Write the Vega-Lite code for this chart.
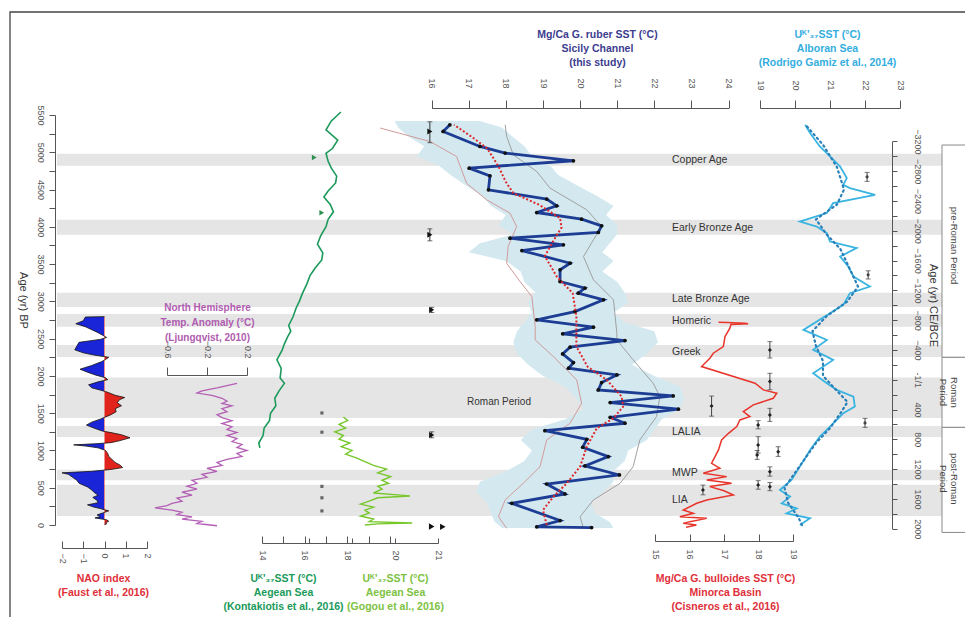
{
"$schema": "https://vega.github.io/schema/vega-lite/v6.json",
"width": 965, "height": 617,
"autosize": {"type": "none"},
"padding": 0,
"background": "white",
"config": {
  "view": {"stroke": null},
  "axis": {"grid": false, "labelFont": "Liberation Sans", "titleFont": "Liberation Sans", "labelFontSize": 9, "labelColor": "#555555", "domainColor": "#555555", "tickColor": "#555555", "titleFontSize": 10.5, "titleFontWeight": "bold", "titleLineHeight": 14, "titleAlign": "center", "titleBaseline": "top", "labelAngle": 90, "labelOverlap": false, "labelFlush": false},
  "text": {"font": "Liberation Sans"}
},
"datasets": {
  "bands": [{"s":4820,"e":4980,"label":"Copper Age","la":4900},{"s":3893,"e":4094,"label":"Early Bronze Age","la":3990},{"s":2926,"e":3114,"label":"Late Bronze Age","la":3030},{"s":2658,"e":2832,"label":"Homeric","la":2735},{"s":2255,"e":2416,"label":"Greek","la":2325},{"s":1436,"e":1980,"label":"Roman Period","la":1650},{"s":1181,"e":1329,"label":"LALIA","la":1250},{"s":600,"e":740,"label":"MWP","la":700},{"s":120,"e":540,"label":"LIA","la":336}],
  "periods": [{"s":-3150,"e":-300,"label":"pre-Roman Period","la":-1800},{"s":-300,"e":640,"label":"Roman\nPeriod","la":170},{"s":640,"e":2050,"label":"post-Roman\nPeriod","la":1330}],
  "sicEnv": [{"age":5420,"lo":15.0,"hi":17.3},{"age":5330,"lo":15.1,"hi":17.9},{"age":5200,"lo":15.4,"hi":18.2},{"age":5080,"lo":15.8,"hi":18.5},{"age":4950,"lo":15.6,"hi":18.7},{"age":4820,"lo":16.2,"hi":19.2},{"age":4700,"lo":16.5,"hi":19.4},{"age":4560,"lo":16.9,"hi":19.9},{"age":4400,"lo":17.4,"hi":20.5},{"age":4280,"lo":17.6,"hi":20.9},{"age":4160,"lo":18.0,"hi":20.7},{"age":4020,"lo":17.8,"hi":21.0},{"age":3900,"lo":18.2,"hi":21.0},{"age":3780,"lo":17.3,"hi":20.8},{"age":3660,"lo":17.0,"hi":20.6},{"age":3540,"lo":18.0,"hi":20.9},{"age":3400,"lo":18.4,"hi":20.6},{"age":3260,"lo":18.5,"hi":21.0},{"age":3120,"lo":18.8,"hi":21.2},{"age":2980,"lo":18.6,"hi":21.3},{"age":2850,"lo":18.7,"hi":20.9},{"age":2720,"lo":18.5,"hi":21.2},{"age":2600,"lo":18.3,"hi":22.0},{"age":2450,"lo":18.2,"hi":22.1},{"age":2300,"lo":18.3,"hi":21.8},{"age":2150,"lo":18.6,"hi":21.4},{"age":2000,"lo":19.0,"hi":22.0},{"age":1850,"lo":19.6,"hi":22.7},{"age":1700,"lo":19.9,"hi":22.8},{"age":1560,"lo":20.1,"hi":22.7},{"age":1420,"lo":19.6,"hi":22.2},{"age":1280,"lo":18.7,"hi":22.0},{"age":1140,"lo":18.4,"hi":21.8},{"age":1000,"lo":18.7,"hi":21.3},{"age":860,"lo":18.5,"hi":21.2},{"age":720,"lo":18.0,"hi":20.9},{"age":580,"lo":17.3,"hi":20.9},{"age":440,"lo":17.2,"hi":20.6},{"age":300,"lo":17.5,"hi":20.3},{"age":160,"lo":17.6,"hi":20.4},{"age":40,"lo":17.7,"hi":20.8},{"age":-40,"lo":17.9,"hi":20.9}],
  "sicThin": [{"side":"L","age":5325,"t":14.61},{"side":"L","age":5145,"t":15.95},{"side":"L","age":4944,"t":16.67},{"side":"L","age":4586,"t":16.94},{"side":"L","age":4362,"t":17.48},{"side":"L","age":4184,"t":18.11},{"side":"L","age":4004,"t":18.29},{"side":"L","age":3736,"t":18.06},{"side":"L","age":3512,"t":18.02},{"side":"L","age":3266,"t":18.38},{"side":"L","age":3064,"t":18.70},{"side":"L","age":2662,"t":18.79},{"side":"L","age":2483,"t":18.79},{"side":"L","age":2259,"t":19.28},{"side":"L","age":1946,"t":19.91},{"side":"L","age":1633,"t":20.04},{"side":"L","age":1365,"t":19.73},{"side":"L","age":1141,"t":19.10},{"side":"L","age":783,"t":18.92},{"side":"L","age":560,"t":18.47},{"side":"L","age":336,"t":17.98},{"side":"L","age":112,"t":17.80},{"side":"L","age":-44,"t":18.02},
    {"side":"R","age":5369,"t":17.98},{"side":"R","age":5212,"t":18.02},{"side":"R","age":4966,"t":18.20},{"side":"R","age":4743,"t":18.83},{"side":"R","age":4519,"t":19.19},{"side":"R","age":4228,"t":20.18},{"side":"R","age":4004,"t":20.58},{"side":"R","age":3826,"t":20.36},{"side":"R","age":3601,"t":20.09},{"side":"R","age":3289,"t":20.36},{"side":"R","age":3020,"t":20.90},{"side":"R","age":2573,"t":20.99},{"side":"R","age":2483,"t":20.99},{"side":"R","age":2215,"t":21.43},{"side":"R","age":1902,"t":21.97},{"side":"R","age":1722,"t":22.15},{"side":"R","age":1454,"t":22.06},{"side":"R","age":1141,"t":21.61},{"side":"R","age":783,"t":21.43},{"side":"R","age":560,"t":21.08},{"side":"R","age":336,"t":20.36},{"side":"R","age":112,"t":20.0},{"side":"R","age":-44,"t":20.09}],
  "sic": [{"age":5369,"t":16.49},{"age":5279,"t":16.31},{"age":5078,"t":17.30},{"age":4989,"t":17.98},{"age":4886,"t":19.82},{"age":4787,"t":17.01},{"age":4684,"t":17.57},{"age":4497,"t":17.53},{"age":4372,"t":19.10},{"age":4282,"t":19.37},{"age":4192,"t":18.83},{"age":4103,"t":20.04},{"age":4013,"t":20.58},{"age":3924,"t":20.49},{"age":3848,"t":18.11},{"age":3758,"t":19.55},{"age":3682,"t":18.43},{"age":3512,"t":19.73},{"age":3423,"t":19.46},{"age":3266,"t":19.46},{"age":3177,"t":20.13},{"age":3110,"t":19.95},{"age":3020,"t":20.63},{"age":2863,"t":19.86},{"age":2752,"t":18.83},{"age":2653,"t":20.36},{"age":2564,"t":19.53},{"age":2474,"t":21.21},{"age":2385,"t":19.73},{"age":2295,"t":19.53},{"age":2179,"t":19.82},{"age":2103,"t":19.69},{"age":2013,"t":20.99},{"age":1910,"t":20.58},{"age":1812,"t":20.49},{"age":1732,"t":22.51},{"age":1642,"t":20.81},{"age":1553,"t":22.65},{"age":1445,"t":20.81},{"age":1365,"t":21.21},{"age":1266,"t":19.05},{"age":1150,"t":20.18},{"age":1043,"t":20.07},{"age":917,"t":20.76},{"age":792,"t":20.13},{"age":671,"t":21.06},{"age":550,"t":19.10},{"age":416,"t":19.59},{"age":291,"t":18.16},{"age":60,"t":19.46},{"age":-25,"t":18.83},{"age":-35,"t":20.31}],
  "sicSmooth": [{"age":5369,"t":16.6},{"age":5200,"t":17.1},{"age":5050,"t":17.5},{"age":4810,"t":17.8},{"age":4600,"t":18.0},{"age":4452,"t":18.2},{"age":4295,"t":18.9},{"age":4116,"t":19.46},{"age":3990,"t":19.5},{"age":3830,"t":19.3},{"age":3607,"t":19.05},{"age":3333,"t":19.37},{"age":3110,"t":19.8},{"age":2796,"t":19.9},{"age":2483,"t":19.9},{"age":2393,"t":19.9},{"age":2125,"t":20.2},{"age":1946,"t":20.72},{"age":1723,"t":21.12},{"age":1589,"t":21.16},{"age":1432,"t":20.9},{"age":1298,"t":20.45},{"age":1052,"t":20.18},{"age":783,"t":20.0},{"age":559,"t":19.64},{"age":380,"t":19.28},{"age":201,"t":19.0},{"age":0,"t":19.1}],
  "sicTie": [{"age":5279,"t":15.95,"lo":5128,"hi":5409},{"age":3893,"t":15.95,"lo":3812,"hi":3973},{"age":2886,"t":16.0,"lo":2850,"hi":2920},{"age":1208,"t":16.0,"lo":1170,"hi":1250}],
  "sicTie2": [{"age":-20,"t":16.0},{"age":-25,"t":16.3}],
  "nao": [{"age":2795,"v":0},{"age":2790,"v":-0.9},{"age":2740,"v":-1.0},{"age":2700,"v":-1.35},{"age":2660,"v":-0.9},{"age":2620,"v":-0.6},{"age":2580,"v":-0.3},{"age":2540,"v":-0.05},{"age":2515,"v":0.1},{"age":2490,"v":-0.2},{"age":2450,"v":-1.2},{"age":2400,"v":-1.3},{"age":2350,"v":-1.4},{"age":2310,"v":-1.0},{"age":2280,"v":-0.5},{"age":2250,"v":0.2},{"age":2220,"v":0.05},{"age":2190,"v":-0.15},{"age":2140,"v":-0.6},{"age":2090,"v":-1.15},{"age":2050,"v":-0.8},{"age":2010,"v":-0.4},{"age":1975,"v":0.05},{"age":1950,"v":0.15},{"age":1920,"v":-0.3},{"age":1880,"v":-0.75},{"age":1840,"v":-0.6},{"age":1810,"v":-0.2},{"age":1780,"v":0.15},{"age":1740,"v":0.5},{"age":1710,"v":0.95},{"age":1680,"v":0.7},{"age":1640,"v":0.6},{"age":1600,"v":0.8},{"age":1560,"v":0.5},{"age":1520,"v":0.55},{"age":1480,"v":0.3},{"age":1450,"v":0.05},{"age":1420,"v":-0.2},{"age":1380,"v":-0.6},{"age":1340,"v":-0.85},{"age":1300,"v":-0.5},{"age":1260,"v":-0.1},{"age":1240,"v":0.3},{"age":1210,"v":0.8},{"age":1170,"v":1.2},{"age":1130,"v":0.7},{"age":1105,"v":0.3},{"age":1090,"v":-0.4},{"age":1075,"v":-1.45},{"age":1060,"v":-0.9},{"age":1035,"v":-0.3},{"age":1000,"v":0.05},{"age":960,"v":0.15},{"age":920,"v":0.2},{"age":880,"v":0.35},{"age":840,"v":0.5},{"age":800,"v":0.75},{"age":770,"v":0.85},{"age":745,"v":0.3},{"age":720,"v":-0.6},{"age":700,"v":-2.0},{"age":680,"v":-1.7},{"age":640,"v":-1.5},{"age":600,"v":-1.3},{"age":560,"v":-1.2},{"age":510,"v":-0.8},{"age":470,"v":-0.6},{"age":440,"v":-0.5},{"age":400,"v":-0.3},{"age":370,"v":-0.55},{"age":330,"v":-0.35},{"age":300,"v":-0.3},{"age":270,"v":-0.8},{"age":240,"v":-0.5},{"age":220,"v":-0.2},{"age":190,"v":0.2},{"age":160,"v":-0.1},{"age":135,"v":-0.35},{"age":110,"v":-0.2},{"age":95,"v":-0.45},{"age":70,"v":0.1},{"age":50,"v":0.2},{"age":30,"v":0.05},{"age":15,"v":0.1},{"age":5,"v":0}],
  "nh": [{"age":1900,"v":0.1},{"age":1870,"v":0.0},{"age":1840,"v":-0.1},{"age":1800,"v":-0.25},{"age":1770,"v":-0.3},{"age":1740,"v":-0.15},{"age":1700,"v":-0.05},{"age":1660,"v":0.0},{"age":1630,"v":-0.05},{"age":1600,"v":0.05},{"age":1560,"v":-0.05},{"age":1520,"v":0.0},{"age":1480,"v":-0.1},{"age":1440,"v":-0.05},{"age":1400,"v":0.05},{"age":1360,"v":-0.05},{"age":1320,"v":0.05},{"age":1280,"v":0.0},{"age":1240,"v":0.1},{"age":1200,"v":0.0},{"age":1160,"v":0.1},{"age":1120,"v":0.05},{"age":1080,"v":0.15},{"age":1040,"v":0.1},{"age":1000,"v":0.2},{"age":960,"v":0.1},{"age":920,"v":0.15},{"age":880,"v":0.0},{"age":840,"v":-0.1},{"age":800,"v":-0.05},{"age":760,"v":-0.2},{"age":720,"v":-0.1},{"age":680,"v":-0.25},{"age":640,"v":-0.2},{"age":600,"v":-0.35},{"age":560,"v":-0.3},{"age":520,"v":-0.4},{"age":480,"v":-0.3},{"age":440,"v":-0.45},{"age":400,"v":-0.35},{"age":360,"v":-0.5},{"age":320,"v":-0.45},{"age":290,"v":-0.55},{"age":260,"v":-0.6},{"age":230,"v":-0.72},{"age":200,"v":-0.55},{"age":170,"v":-0.45},{"age":140,"v":-0.5},{"age":110,"v":-0.35},{"age":80,"v":-0.45},{"age":50,"v":-0.25},{"age":20,"v":-0.3},{"age":-10,"v":-0.1}],
  "kon": [{"age":5540,"t":17.7},{"age":5420,"t":17.25},{"age":5300,"t":17.0},{"age":5163,"t":17.55},{"age":5050,"t":17.3},{"age":4987,"t":17.0},{"age":4880,"t":17.1},{"age":4787,"t":17.25},{"age":4680,"t":17.5},{"age":4588,"t":17.45},{"age":4480,"t":17.1},{"age":4400,"t":16.9},{"age":4300,"t":17.2},{"age":4201,"t":17.35},{"age":4100,"t":17.1},{"age":4002,"t":17.0},{"age":3880,"t":16.75},{"age":3767,"t":16.6},{"age":3650,"t":16.85},{"age":3556,"t":16.8},{"age":3450,"t":16.5},{"age":3345,"t":16.25},{"age":3230,"t":16.1},{"age":3110,"t":15.9},{"age":3000,"t":15.75},{"age":2911,"t":15.6},{"age":2790,"t":15.45},{"age":2676,"t":15.25},{"age":2600,"t":15.35},{"age":2523,"t":15.2},{"age":2430,"t":15.05},{"age":2350,"t":14.95},{"age":2215,"t":14.7},{"age":2100,"t":14.9},{"age":1973,"t":14.85},{"age":1900,"t":15.05},{"age":1800,"t":14.8},{"age":1700,"t":14.6},{"age":1600,"t":14.65},{"age":1500,"t":14.4},{"age":1400,"t":14.35},{"age":1300,"t":14.1},{"age":1200,"t":14.05},{"age":1100,"t":13.85},{"age":1034,"t":13.9}],
  "konMark": [{"age":4930,"t":16.45},{"age":4190,"t":16.8}],
  "gog": [{"age":1450,"t":18.8},{"age":1400,"t":18.9},{"age":1350,"t":18.7},{"age":1300,"t":18.85},{"age":1250,"t":18.6},{"age":1200,"t":18.8},{"age":1150,"t":18.7},{"age":1100,"t":18.95},{"age":1050,"t":18.75},{"age":1000,"t":19.0},{"age":950,"t":18.85},{"age":900,"t":19.1},{"age":850,"t":19.3},{"age":800,"t":19.5},{"age":750,"t":19.8},{"age":700,"t":19.6},{"age":650,"t":19.9},{"age":600,"t":19.7},{"age":560,"t":19.85},{"age":520,"t":19.6},{"age":480,"t":19.7},{"age":430,"t":19.5},{"age":390,"t":20.35},{"age":365,"t":19.6},{"age":320,"t":19.4},{"age":280,"t":19.2},{"age":240,"t":19.5},{"age":200,"t":19.3},{"age":160,"t":19.4},{"age":120,"t":19.2},{"age":80,"t":19.5},{"age":45,"t":19.4},{"age":27,"t":20.4},{"age":15,"t":19.6},{"age":0,"t":19.3}],
  "gogMark": [{"age":1503,"t":18.3},{"age":1245,"t":18.3},{"age":518,"t":18.3},{"age":365,"t":18.3},{"age":189,"t":18.3}],
  "min": [{"age":2720,"t":16.84},{"age":2715,"t":17.1},{"age":2705,"t":17.6},{"age":2700,"t":17.7},{"age":2690,"t":17.2},{"age":2640,"t":17.17},{"age":2528,"t":17.03},{"age":2394,"t":16.98},{"age":2304,"t":16.69},{"age":2237,"t":16.59},{"age":2125,"t":16.35},{"age":1902,"t":17.90},{"age":1812,"t":18.14},{"age":1767,"t":18.53},{"age":1700,"t":18.43},{"age":1611,"t":17.85},{"age":1521,"t":17.56},{"age":1454,"t":17.75},{"age":1409,"t":17.46},{"age":1320,"t":17.37},{"age":1230,"t":17.13},{"age":1141,"t":16.93},{"age":1007,"t":16.84},{"age":918,"t":16.74},{"age":828,"t":16.64},{"age":761,"t":16.88},{"age":694,"t":16.40},{"age":649,"t":17.08},{"age":604,"t":16.50},{"age":559,"t":17.22},{"age":515,"t":16.59},{"age":460,"t":17.0},{"age":403,"t":17.27},{"age":336,"t":16.50},{"age":291,"t":16.21},{"age":201,"t":15.82},{"age":157,"t":16.11},{"age":112,"t":15.72},{"age":89,"t":16.50},{"age":45,"t":16.01},{"age":22,"t":15.82},{"age":0,"t":16.2},{"age":-30,"t":15.9}],
  "minMark": [{"age":2349,"t":18.33,"lo":2240,"hi":2460},{"age":1924,"t":18.33,"lo":1815,"hi":2035},{"age":1597,"t":16.64,"lo":1460,"hi":1730},{"age":1477,"t":18.33,"lo":1390,"hi":1565},{"age":1342,"t":17.99,"lo":1290,"hi":1400},{"age":1074,"t":17.99,"lo":965,"hi":1185},{"age":984,"t":18.57,"lo":920,"hi":1050},{"age":940,"t":17.96,"lo":880,"hi":1000},{"age":716,"t":18.33,"lo":655,"hi":780},{"age":537,"t":17.99,"lo":480,"hi":595},{"age":514,"t":18.33,"lo":460,"hi":570},{"age":470,"t":16.39,"lo":405,"hi":535}],
  "alb": [{"age":5369,"t":20.29},{"age":5258,"t":20.43},{"age":5078,"t":20.71},{"age":4944,"t":21.0},{"age":4809,"t":21.29},{"age":4653,"t":21.48},{"age":4564,"t":21.38},{"age":4519,"t":21.57},{"age":4430,"t":22.29},{"age":4318,"t":21.09},{"age":4184,"t":20.91},{"age":4071,"t":20.14},{"age":4004,"t":20.62},{"age":3915,"t":20.91},{"age":3803,"t":21.0},{"age":3714,"t":21.76},{"age":3602,"t":21.29},{"age":3467,"t":21.52},{"age":3333,"t":21.67},{"age":3199,"t":22.14},{"age":3110,"t":21.57},{"age":2953,"t":21.38},{"age":2841,"t":21.0},{"age":2617,"t":20.24},{"age":2483,"t":20.91},{"age":2349,"t":20.52},{"age":2215,"t":21.09},{"age":2036,"t":20.52},{"age":1902,"t":20.91},{"age":1812,"t":21.19},{"age":1722,"t":21.67},{"age":1588,"t":21.71},{"age":1499,"t":21.38},{"age":1320,"t":21.0},{"age":1186,"t":20.71},{"age":1007,"t":20.43},{"age":783,"t":20.14},{"age":604,"t":19.9},{"age":470,"t":19.57},{"age":380,"t":19.86},{"age":291,"t":19.62},{"age":224,"t":20.05},{"age":157,"t":19.76},{"age":90,"t":20.43},{"age":0,"t":20.14}],
  "albS": [{"age":5369,"t":20.3},{"age":5100,"t":20.8},{"age":4800,"t":21.2},{"age":4500,"t":21.4},{"age":4300,"t":21.2},{"age":4100,"t":20.6},{"age":3900,"t":20.9},{"age":3700,"t":21.3},{"age":3400,"t":21.6},{"age":3200,"t":21.8},{"age":3000,"t":21.5},{"age":2800,"t":20.9},{"age":2600,"t":20.5},{"age":2400,"t":20.6},{"age":2200,"t":20.8},{"age":2000,"t":20.8},{"age":1800,"t":21.2},{"age":1650,"t":21.5},{"age":1500,"t":21.3},{"age":1300,"t":21.0},{"age":1100,"t":20.6},{"age":900,"t":20.3},{"age":700,"t":20.0},{"age":500,"t":19.7},{"age":300,"t":19.8},{"age":100,"t":20.1},{"age":0,"t":20.2}],
  "albMark": [{"age":4671,"t":22.06,"lo":4610,"hi":4730},{"age":3356,"t":22.09,"lo":3300,"hi":3410},{"age":1369,"t":22.0,"lo":1310,"hi":1430}]
},
"layer": [
  {"data": {"values": [{}]}, "mark": {"type": "rect", "fill": "transparent", "stroke": "#444444", "strokeWidth": 1.3},
   "encoding": {"x": {"datum": 0, "scale": {"domain": [0,1], "range": [10,1100]}, "axis": null}, "x2": {"datum": 1}, "y": {"datum": 0, "scale": {"domain": [0,1], "range": [12,800]}, "axis": null}, "y2": {"datum": 1}}},
  {"data": {"name": "bands"}, "mark": {"type": "rect", "color": "#e5e5e5"},
   "encoding": {"x": {"datum": 0, "scale": {"domain": [0,1], "range": [57,942]}, "axis": null}, "x2": {"datum": 1},
     "y": {"field": "s", "type": "quantitative", "scale": {"domain": [0,5500], "range": [525,115], "nice": false, "zero": false},
       "axis": {"zindex": 1, "orient": "left", "offset": -55, "values": [0,250,500,750,1000,1250,1500,1750,2000,2250,2500,2750,3000,3250,3500,3750,4000,4250,4500,4750,5000,5250,5500], "format": "d", "labelExpr": "datum.value % 500 === 0 ? datum.label : ''", "labelAngle": 90, "labelAlign": "center", "labelBaseline": "top", "tickSize": 6, "labelPadding": 5, "title": "Age (yr) BP", "titleAngle": 90, "titleX": -33, "titleY": 300, "titleFontSize": 11, "titleFontWeight": "normal", "titleColor": "#333333", "titleBaseline": "middle"}},
     "y2": {"field": "e"}}},
  {"data": {"name": "bands"}, "transform": [{"filter": "datum.label !== 'Roman Period'"}],
   "mark": {"type": "text", "align": "left", "baseline": "middle", "fontSize": 10.5, "color": "#333333"},
   "encoding": {"x": {"datum": 0.6949, "scale": {"domain": [0,1], "range": [57,942]}, "axis": null},
     "y": {"field": "la", "type": "quantitative", "scale": {"domain": [0,5500], "range": [525,115], "nice": false, "zero": false}, "axis": null},
     "text": {"field": "label"}}},
  {"data": {"name": "bands"}, "transform": [{"filter": "datum.label === 'Roman Period'"}],
   "mark": {"type": "text", "align": "center", "baseline": "middle", "fontSize": 10, "color": "#333333"},
   "encoding": {"x": {"datum": 0.4994, "scale": {"domain": [0,1], "range": [57,942]}, "axis": null},
     "y": {"field": "la", "type": "quantitative", "scale": {"domain": [0,5500], "range": [525,115], "nice": false, "zero": false}, "axis": null},
     "text": {"field": "label"}}},
  {"data": {"name": "periods"}, "mark": {"type": "rect", "fill": "white", "stroke": "#8a8a8a", "strokeWidth": 1},
   "encoding": {"x": {"datum": 0, "scale": {"domain": [0,1], "range": [942,1100]}, "axis": null}, "x2": {"datum": 1},
     "y": {"field": "s", "type": "quantitative", "scale": {"domain": [-3200,2000], "range": [141.3,528.7], "nice": false, "zero": false},
       "axis": {"zindex": 1, "orient": "right", "offset": -73, "values": [-3200,-3000,-2800,-2600,-2400,-2200,-2000,-1800,-1600,-1400,-1200,-1000,-800,-600,-400,-200,0,200,400,600,800,1000,1200,1400,1600,1800,2000], "format": "d", "labelExpr": "datum.value === 0 ? '-1/1' : (datum.value % 400 === 0 ? datum.label : '')", "labelAngle": 90, "labelAlign": "center", "labelBaseline": "bottom", "tickSize": 5, "labelPadding": 15, "title": "Age (yr) CE/BCE", "titleAngle": 90, "titleX": 40, "titleY": 305, "titleFontSize": 11, "titleFontWeight": "normal", "titleColor": "#333333", "titleBaseline": "middle"}},
     "y2": {"field": "e"}}},
  {"data": {"name": "periods"}, "mark": {"type": "text", "angle": 90, "align": "center", "baseline": "middle", "fontSize": 9.5, "color": "#444444", "lineBreak": "\n", "lineHeight": 11},
   "encoding": {"x": {"datum": 0.073, "scale": {"domain": [0,1], "range": [942,1100]}, "axis": null},
     "y": {"field": "la", "type": "quantitative", "scale": {"domain": [-3200,2000], "range": [141.3,528.7], "nice": false, "zero": false}, "axis": null},
     "text": {"field": "label"}}},
  {"data": {"name": "sicEnv"}, "mark": {"type": "area", "orient": "horizontal", "color": "#d3e9ef"},
   "encoding": {"x": {"field": "lo", "type": "quantitative", "scale": {"domain": [16,24], "range": [431.7,728.5], "nice": false, "zero": false}, "axis": null}, "x2": {"field": "hi"},
     "y": {"field": "age", "type": "quantitative", "scale": {"domain": [0,5500], "range": [525,115], "nice": false, "zero": false}, "axis": null}}},
  {"data": {"name": "sicThin"}, "mark": {"type": "line", "strokeWidth": 1},
   "encoding": {"x": {"field": "t", "type": "quantitative", "scale": {"domain": [16,24], "range": [431.7,728.5], "nice": false, "zero": false}, "axis": null},
     "y": {"field": "age", "type": "quantitative", "scale": {"domain": [0,5500], "range": [525,115], "nice": false, "zero": false}, "axis": null},
     "color": {"field": "side", "type": "nominal", "scale": {"domain": ["L","R"], "range": ["#d29a9a","#a0a0a0"]}, "legend": null},
     "order": {"field": "age", "type": "quantitative"}}},
  {"data": {"name": "sic"}, "mark": {"type": "line", "color": "#1c3d93", "strokeWidth": 2.8},
   "encoding": {"x": {"field": "t", "type": "quantitative", "scale": {"domain": [16,24], "range": [431.7,728.5], "nice": false, "zero": false},
       "axis": {"zindex": 1, "orient": "top", "offset": -108, "values": [16,17,18,19,20,21,22,23,24], "format": "d", "labelAlign": "right", "labelBaseline": "middle", "tickSize": 8, "labelPadding": 12, "title": ["Mg/Ca G. ruber SST (°C)", "Sicily Channel", "(this study)"], "titleColor": "#3d3d8f", "titleX": 597, "titleY": -79}},
     "y": {"field": "age", "type": "quantitative", "scale": {"domain": [0,5500], "range": [525,115], "nice": false, "zero": false}, "axis": null},
     "order": {"field": "age", "type": "quantitative"}}},
  {"data": {"name": "sic"}, "mark": {"type": "point", "filled": true, "color": "#111111", "size": 14, "opacity": 1},
   "encoding": {"x": {"field": "t", "type": "quantitative", "scale": {"domain": [16,24], "range": [431.7,728.5], "nice": false, "zero": false}, "axis": null},
     "y": {"field": "age", "type": "quantitative", "scale": {"domain": [0,5500], "range": [525,115], "nice": false, "zero": false}, "axis": null}}},
  {"data": {"name": "sicSmooth"}, "mark": {"type": "line", "color": "#e0262b", "strokeWidth": 2, "strokeDash": [2,2]},
   "encoding": {"x": {"field": "t", "type": "quantitative", "scale": {"domain": [16,24], "range": [431.7,728.5], "nice": false, "zero": false}, "axis": null},
     "y": {"field": "age", "type": "quantitative", "scale": {"domain": [0,5500], "range": [525,115], "nice": false, "zero": false}, "axis": null},
     "order": {"field": "age", "type": "quantitative"}}},
  {"data": {"name": "sicTie"}, "mark": {"type": "errorbar", "ticks": true, "color": "#333333"},
   "encoding": {"x": {"field": "t", "type": "quantitative", "scale": {"domain": [16,24], "range": [431.7,728.5], "nice": false, "zero": false}, "axis": null},
     "y": {"field": "lo", "type": "quantitative", "scale": {"domain": [0,5500], "range": [525,115], "nice": false, "zero": false}, "axis": null}, "y2": {"field": "hi"}}},
  {"data": {"name": "sicTie"}, "mark": {"type": "point", "shape": "triangle-right", "filled": true, "color": "#111111", "size": 35, "opacity": 1},
   "encoding": {"x": {"field": "t", "type": "quantitative", "scale": {"domain": [16,24], "range": [431.7,728.5], "nice": false, "zero": false}, "axis": null},
     "y": {"field": "age", "type": "quantitative", "scale": {"domain": [0,5500], "range": [525,115], "nice": false, "zero": false}, "axis": null}}},
  {"data": {"name": "sicTie2"}, "mark": {"type": "point", "shape": "triangle-right", "filled": true, "color": "#111111", "size": 40, "opacity": 1},
   "encoding": {"x": {"field": "t", "type": "quantitative", "scale": {"domain": [16,24], "range": [431.7,728.5], "nice": false, "zero": false}, "axis": null},
     "y": {"field": "age", "type": "quantitative", "scale": {"domain": [0,5500], "range": [525,115], "nice": false, "zero": false}, "axis": null}}},
  {"data": {"name": "nao"}, "mark": {"type": "area", "orient": "horizontal", "color": {"gradient": "linear", "x1": 0, "x2": 1, "y1": 0, "y2": 0, "stops": [{"offset": 0, "color": "#1a25d8"}, {"offset": 0.625, "color": "#1a25d8"}, {"offset": 0.625, "color": "#e0241c"}, {"offset": 1, "color": "#e0241c"}]}},
   "encoding": {"x": {"field": "v", "type": "quantitative", "scale": {"domain": [-2,2], "range": [62,147], "nice": false, "zero": false},
       "axis": {"zindex": 1, "orient": "bottom", "offset": -69, "values": [-2,-1.5,-1,-0.5,0,0.5,1,1.5,2], "format": "d", "labelExpr": "datum.value % 1 === 0 ? datum.label : ''", "labelAlign": "left", "labelBaseline": "middle", "tickSize": -7, "labelPadding": 12, "title": ["NAO index", "(Faust et al., 2016)"], "titleColor": "#e0303a", "titleX": 103, "titleY": 25}},
     "x2": {"datum": 0},
     "y": {"field": "age", "type": "quantitative", "scale": {"domain": [0,5500], "range": [525,115], "nice": false, "zero": false}, "axis": null}}},
  {"data": {"name": "nao"}, "mark": {"type": "line", "color": "#111111", "strokeWidth": 0.8},
   "encoding": {"x": {"field": "v", "type": "quantitative", "scale": {"domain": [-2,2], "range": [62,147], "nice": false, "zero": false}, "axis": null},
     "y": {"field": "age", "type": "quantitative", "scale": {"domain": [0,5500], "range": [525,115], "nice": false, "zero": false}, "axis": null},
     "order": {"field": "age", "type": "quantitative"}}},
  {"data": {"name": "nh"}, "mark": {"type": "line", "color": "#b35fb5", "strokeWidth": 1.3},
   "encoding": {"x": {"field": "v", "type": "quantitative", "scale": {"domain": [-0.6,0.2], "range": [167,247], "nice": false, "zero": false},
       "axis": {"zindex": 1, "orient": "top", "offset": -375, "values": [-0.6,-0.2,0.2], "format": ".1f", "labelAlign": "right", "labelBaseline": "middle", "tickSize": 8, "labelPadding": 9, "title": ["North Hemisphere", "Temp. Anomaly (°C)", "(Ljungqvist, 2010)"], "titleColor": "#b05cb0", "titleFontSize": 10, "titleLineHeight": 15, "titleX": 207, "titleY": -73}},
     "y": {"field": "age", "type": "quantitative", "scale": {"domain": [0,5500], "range": [525,115], "nice": false, "zero": false}, "axis": null},
     "order": {"field": "age", "type": "quantitative"}}},
  {"data": {"name": "kon"}, "mark": {"type": "line", "color": "#1b9a5b", "strokeWidth": 1.6},
   "encoding": {"x": {"field": "t", "type": "quantitative", "scale": {"domain": [14,20], "range": [262,390], "nice": false, "zero": false},
       "axis": {"zindex": 1, "orient": "bottom", "offset": -74, "values": [14,15,16,17,18,19,20], "format": "d", "labelExpr": "datum.value % 2 === 0 && datum.value < 20 ? datum.label : ''", "labelAlign": "left", "labelBaseline": "middle", "tickSize": -7, "labelPadding": 14, "title": ["Uᴷ'₃₇SST (°C)", "Aegean Sea", "(Kontakiotis et al., 2016)"], "titleColor": "#1b9a5b", "titleX": 283, "titleY": 30}},
     "y": {"field": "age", "type": "quantitative", "scale": {"domain": [0,5500], "range": [525,115], "nice": false, "zero": false}, "axis": null},
     "order": {"field": "age", "type": "quantitative"}}},
  {"data": {"name": "konMark"}, "mark": {"type": "point", "shape": "triangle-right", "filled": true, "color": "#2a8f4f", "size": 30, "opacity": 1},
   "encoding": {"x": {"field": "t", "type": "quantitative", "scale": {"domain": [14,20], "range": [262,390], "nice": false, "zero": false}, "axis": null},
     "y": {"field": "age", "type": "quantitative", "scale": {"domain": [0,5500], "range": [525,115], "nice": false, "zero": false}, "axis": null}}},
  {"data": {"name": "gog"}, "mark": {"type": "line", "color": "#77c72b", "strokeWidth": 1.4},
   "encoding": {"x": {"field": "t", "type": "quantitative", "scale": {"domain": [18,21], "range": [309,438], "nice": false, "zero": false},
       "axis": {"zindex": 1, "orient": "bottom", "offset": -74, "values": [18,18.5,19,19.5,20,20.5,21], "format": "d", "labelExpr": "datum.value >= 20 && datum.value % 1 === 0 ? datum.label : ''", "labelAlign": "left", "labelBaseline": "middle", "tickSize": -5, "labelPadding": 12, "title": ["Uᴷ'₃₇SST (°C)", "Aegean Sea", "(Gogou et al., 2016)"], "titleColor": "#7dc242", "titleX": 395, "titleY": 30}},
     "y": {"field": "age", "type": "quantitative", "scale": {"domain": [0,5500], "range": [525,115], "nice": false, "zero": false}, "axis": null},
     "order": {"field": "age", "type": "quantitative"}}},
  {"data": {"name": "gogMark"}, "mark": {"type": "point", "shape": "square", "filled": true, "color": "#666666", "size": 10, "opacity": 1},
   "encoding": {"x": {"field": "t", "type": "quantitative", "scale": {"domain": [18,21], "range": [309,438], "nice": false, "zero": false}, "axis": null},
     "y": {"field": "age", "type": "quantitative", "scale": {"domain": [0,5500], "range": [525,115], "nice": false, "zero": false}, "axis": null}}},
  {"data": {"name": "min"}, "mark": {"type": "line", "color": "#e8352b", "strokeWidth": 1.5},
   "encoding": {"x": {"field": "t", "type": "quantitative", "scale": {"domain": [15,19], "range": [655,793], "nice": false, "zero": false},
       "axis": {"zindex": 1, "orient": "bottom", "offset": -76, "values": [15,15.5,16,16.5,17,17.5,18,18.5,19], "format": "d", "labelExpr": "datum.value % 1 === 0 ? datum.label : ''", "labelAlign": "left", "labelBaseline": "middle", "tickSize": -7, "labelPadding": 15, "title": ["Mg/Ca G. bulloides SST (°C)", "Minorca Basin", "(Cisneros et al., 2016)"], "titleColor": "#e0303a", "titleX": 725, "titleY": 32}},
     "y": {"field": "age", "type": "quantitative", "scale": {"domain": [0,5500], "range": [525,115], "nice": false, "zero": false}, "axis": null},
     "order": {"field": "age", "type": "quantitative"}}},
  {"data": {"name": "minMark"}, "mark": {"type": "errorbar", "ticks": true, "color": "#444444"},
   "encoding": {"x": {"field": "t", "type": "quantitative", "scale": {"domain": [15,19], "range": [655,793], "nice": false, "zero": false}, "axis": null},
     "y": {"field": "lo", "type": "quantitative", "scale": {"domain": [0,5500], "range": [525,115], "nice": false, "zero": false}, "axis": null}, "y2": {"field": "hi"}}},
  {"data": {"name": "minMark"}, "mark": {"type": "point", "shape": "diamond", "filled": true, "color": "#222222", "size": 16, "opacity": 1},
   "encoding": {"x": {"field": "t", "type": "quantitative", "scale": {"domain": [15,19], "range": [655,793], "nice": false, "zero": false}, "axis": null},
     "y": {"field": "age", "type": "quantitative", "scale": {"domain": [0,5500], "range": [525,115], "nice": false, "zero": false}, "axis": null}}},
  {"data": {"name": "alb"}, "mark": {"type": "line", "color": "#3ab4e0", "strokeWidth": 1.8},
   "encoding": {"x": {"field": "t", "type": "quantitative", "scale": {"domain": [19,23], "range": [760,900], "nice": false, "zero": false},
       "axis": {"zindex": 1, "orient": "top", "offset": -108, "values": [19,19.5,20,20.5,21,21.5,22,22.5,23], "format": "d", "labelExpr": "datum.value % 1 === 0 ? datum.label : ''", "labelAlign": "right", "labelBaseline": "middle", "tickSize": 8, "labelPadding": 10, "title": ["Uᴷ'₃₇SST (°C)", "Alboran Sea", "(Rodrigo Gamiz et al., 2014)"], "titleColor": "#34aee0", "titleX": 827, "titleY": -79}},
     "y": {"field": "age", "type": "quantitative", "scale": {"domain": [0,5500], "range": [525,115], "nice": false, "zero": false}, "axis": null},
     "order": {"field": "age", "type": "quantitative"}}},
  {"data": {"name": "albS"}, "mark": {"type": "line", "color": "#2a80b9", "strokeWidth": 2.2, "strokeDash": [1.5,3.5], "strokeCap": "round"},
   "encoding": {"x": {"field": "t", "type": "quantitative", "scale": {"domain": [19,23], "range": [760,900], "nice": false, "zero": false}, "axis": null},
     "y": {"field": "age", "type": "quantitative", "scale": {"domain": [0,5500], "range": [525,115], "nice": false, "zero": false}, "axis": null},
     "order": {"field": "age", "type": "quantitative"}}},
  {"data": {"name": "albMark"}, "mark": {"type": "errorbar", "ticks": true, "color": "#444444"},
   "encoding": {"x": {"field": "t", "type": "quantitative", "scale": {"domain": [19,23], "range": [760,900], "nice": false, "zero": false}, "axis": null},
     "y": {"field": "lo", "type": "quantitative", "scale": {"domain": [0,5500], "range": [525,115], "nice": false, "zero": false}, "axis": null}, "y2": {"field": "hi"}}},
  {"data": {"name": "albMark"}, "mark": {"type": "point", "filled": true, "color": "#444444", "size": 10, "opacity": 1},
   "encoding": {"x": {"field": "t", "type": "quantitative", "scale": {"domain": [19,23], "range": [760,900], "nice": false, "zero": false}, "axis": null},
     "y": {"field": "age", "type": "quantitative", "scale": {"domain": [0,5500], "range": [525,115], "nice": false, "zero": false}, "axis": null}}}
],
"resolve": {"scale": {"x": "independent", "y": "independent", "color": "independent"}}
}
